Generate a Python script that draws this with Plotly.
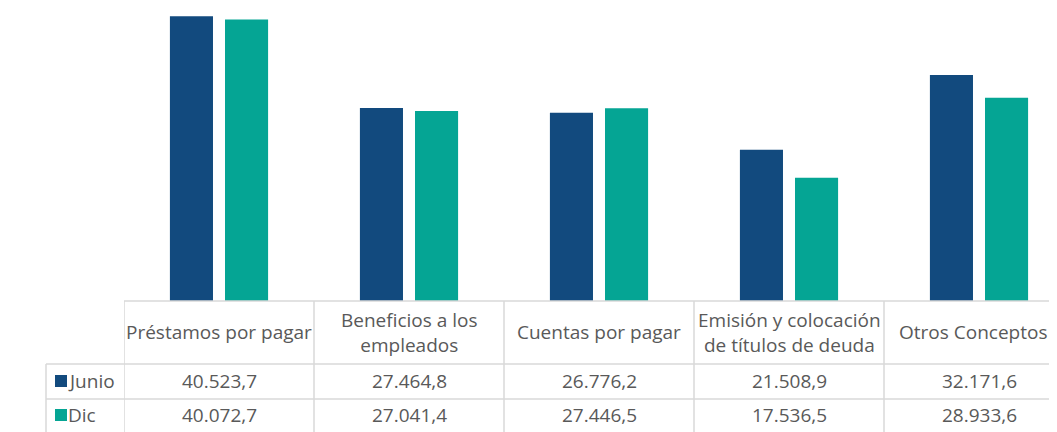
import plotly.graph_objects as go

categories = ["Préstamos por pagar", "Beneficios a los<br>empleados", "Cuentas por pagar",
              "Emisión y colocación<br>de títulos de deuda", "Otros Conceptos"]
series_names = ["Junio", "Dic"]
junio = [40523.7, 27464.8, 26776.2, 21508.9, 32171.6]
dic = [40072.7, 27041.4, 27446.5, 17536.5, 28933.6]
colors = {"Junio": "#124A7E", "Dic": "#05A594"}

# page has an 8px body margin: work in screen pixels, convert to figure pixels
OFF = 8
SW, SH = 1057, 432
W, H = SW - OFF, SH - OFF
VIS_R = SW - OFF                 # visible right edge on screen
L_S, BASE_S = 124, 301          # screen px: plot left edge and baseline
L = L_S - OFF
B = H - (BASE_S - OFF)
T = 0
PH = H - B - T
PW = W - L
COLW = 190.0
FONT = "Open Sans"
FS = 19
TXT = "#595959"
GRID = "#D9D9D9"

def fmt(v):
    s = f"{v:,.1f}"
    return s.replace(",", "X").replace(".", ",").replace("X", ".")

def py(sy):  # screen y -> paper y
    return (BASE_S - sy) / PH

def px(sx):  # screen x -> paper x
    return (sx - L_S) / PW

fig = go.Figure()
xs = list(range(len(categories)))
for name, vals in zip(series_names, [junio, dic]):
    fig.add_trace(go.Bar(x=xs, y=vals, name=name, marker_color=colors[name],
                         marker_line_width=0, showlegend=False, hoverinfo="y"))

shapes = []
shapes.append(dict(type="line", xref="paper", yref="paper", x0=0, x1=1, y0=0, y1=0,
                   line=dict(color=GRID, width=1.5)))
for yy in [364, 399]:
    shapes.append(dict(type="line", xref="paper", yref="paper", x0=px(46), x1=1,
                       y0=py(yy), y1=py(yy), line=dict(color=GRID, width=1.5)))
shapes.append(dict(type="line", xref="paper", yref="paper", x0=px(46), x1=px(46),
                   y0=py(364), y1=py(SH + 2), line=dict(color=GRID, width=1.5)))
for k in range(len(categories)):
    xb = k - 0.5
    shapes.append(dict(type="line", xref="x", yref="paper", x0=xb, x1=xb,
                       y0=0, y1=py(SH + 2), line=dict(color=GRID, width=1.5)))

annotations = []
for i, c in enumerate(categories):
    annotations.append(dict(x=i, y=py(332), xref="x", yref="paper", text=c,
                            showarrow=False, xanchor="center", yanchor="middle",
                            xshift=(-6 if i == len(categories) - 1 else 0),
                            font=dict(family=FONT, size=FS, color=TXT)))
row_y = {"Junio": 381, "Dic": 415}
for name, vals in zip(series_names, [junio, dic]):
    for i, v in enumerate(vals):
        annotations.append(dict(x=i, y=py(row_y[name]), xref="x", yref="paper", text=fmt(v),
                                showarrow=False, xanchor="center", yanchor="middle",
                                font=dict(family=FONT, size=FS, color=TXT)))
    shapes.append(dict(type="rect", xref="paper", yref="paper", x0=px(55), x1=px(67),
                       y0=py(row_y[name] + 6), y1=py(row_y[name] - 6),
                       fillcolor=colors[name], line=dict(width=0)))
    annotations.append(dict(x=px(66), y=py(row_y[name]), xref="paper", yref="paper",
                            text=name, showarrow=False, xanchor="left", yanchor="middle",
                            font=dict(family=FONT, size=FS, color=TXT)))

fig.update_layout(
    width=W, height=H,
    margin=dict(l=L, r=0, t=T, b=B, pad=0),
    paper_bgcolor="white", plot_bgcolor="white",
    barmode="group", bargap=0.42, bargroupgap=0.218,
    xaxis=dict(range=[-0.5, -0.5 + PW / COLW], showticklabels=False, showgrid=False,
               zeroline=False, showline=False, ticks="", fixedrange=True),
    yaxis=dict(range=[0, 41700], visible=False, showgrid=False, zeroline=False),
    shapes=shapes, annotations=annotations,
    font=dict(family=FONT, color=TXT),
)

fig.write_html("out.html")
